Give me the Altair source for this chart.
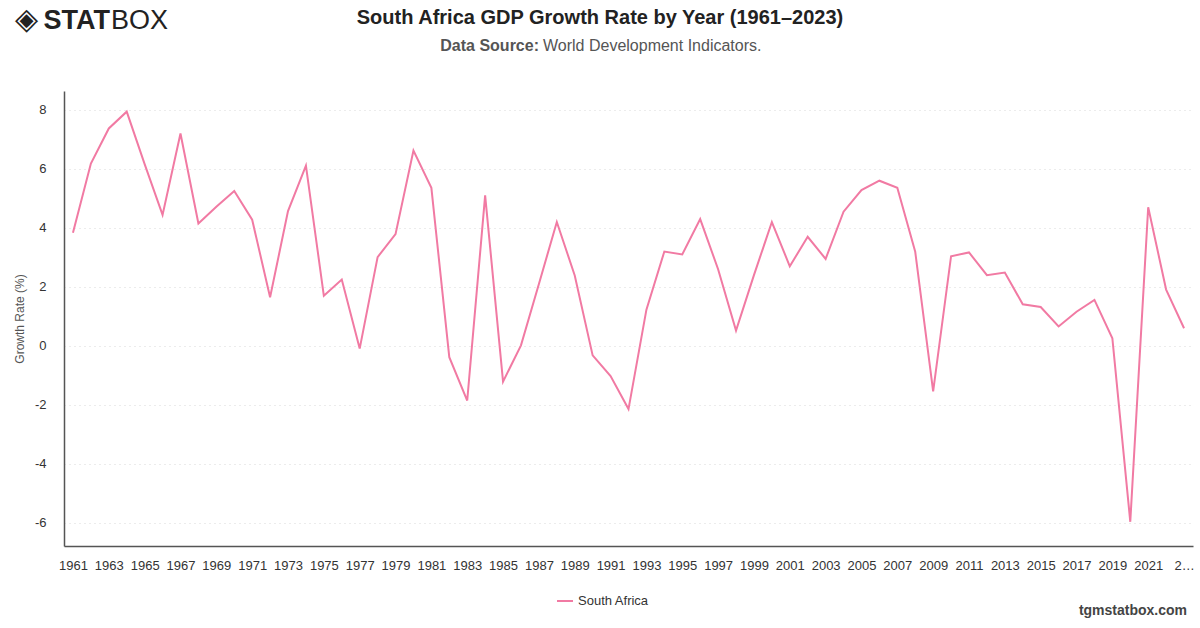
import altair as alt
import pandas as pd

years = list(range(1961, 2024))
growth = [
    3.84, 6.18, 7.37, 7.94, 6.16, 4.44, 7.20, 4.15, 4.72, 5.25,
    4.28, 1.65, 4.57, 6.11, 1.70, 2.25, -0.09, 3.01, 3.79, 6.62,
    5.36, -0.38, -1.85, 5.10, -1.21, 0.02, 2.10, 4.20, 2.39, -0.32,
    -1.02, -2.14, 1.23, 3.20, 3.10, 4.30, 2.60, 0.52, 2.40, 4.20,
    2.70, 3.70, 2.95, 4.55, 5.28, 5.60, 5.36, 3.19, -1.54, 3.04,
    3.17, 2.40, 2.49, 1.41, 1.32, 0.66, 1.16, 1.56, 0.26, -5.96,
    4.70, 1.91, 0.60,
]
country = ["South Africa"] * len(years)
x_tick_years = list(range(1961, 2024, 2))
y_ticks = [-6, -4, -2, 0, 2, 4, 6, 8]

title_text = "South Africa GDP Growth Rate by Year (1961\u20132023)"
subtitle_bold = "Data Source:"
subtitle_rest = "World Development Indicators."
footer_text = "tgmstatbox.com"

FONT = "Liberation Sans"
W, H = 1129, 455
PAD_L, PAD_T = 64, 91

df = pd.DataFrame({"Year": years, "Growth": growth, "Country": country})

line = alt.Chart(df).mark_line(strokeWidth=2).encode(
    x=alt.X(
        "Year:O",
        scale=alt.Scale(type="point", padding=0.5),
        axis=alt.Axis(
            values=x_tick_years,
            labelAngle=0,
            labelExpr="datum.value == 2023 ? '2\u2026' : datum.label",
            ticks=False,
            grid=False,
            title=None,
            labelFontSize=13,
            labelColor="#333333",
            labelPadding=13,
            labelFont=FONT,
            domainColor="#555555",
            domainWidth=1.5,
        ),
    ),
    y=alt.Y(
        "Growth:Q",
        scale=alt.Scale(domain=[-6.78, 8.64], nice=False, zero=False),
        axis=alt.Axis(
            values=y_ticks,
            labelExpr="'' + datum.value",
            ticks=False,
            grid=True,
            gridDash=[1, 4],
            gridColor="#d9d9d9",
            gridWidth=1,
            title="Growth Rate (%)",
            titleFont=FONT,
            titleFontSize=12,
            titleFontWeight="normal",
            titleColor="#555555",
            titleX=-38,
            labelFontSize=13,
            labelColor="#333333",
            labelPadding=18,
            labelFont=FONT,
            domainColor="#555555",
            domainWidth=1.5,
        ),
    ),
    color=alt.Color(
        "Country:N",
        scale=alt.Scale(range=["#f17aa3"]),
        legend=alt.Legend(
            orient="none",
            legendX=492,
            legendY=501,
            title=None,
            symbolType="stroke",
            symbolStrokeWidth=2,
            symbolSize=256,
            labelFontSize=13,
            labelColor="#333333",
            labelFont=FONT,
            padding=0,
        ),
    ),
)


def txt(s, x, y, size, weight="normal", color="#222222", align="left"):
    return alt.Chart(pd.DataFrame({"t": [s]})).mark_text(
        font=FONT, fontSize=size, fontWeight=weight, color=color,
        align=align, baseline="middle",
    ).encode(x=alt.value(x), y=alt.value(y), text="t:N")


layers = [
    line,
    txt(title_text, 600 - PAD_L, 18 - PAD_T, 20, "bold", "#222222", "center"),
    txt(subtitle_bold, 539 - PAD_L, 46 - PAD_T, 16, "bold", "#555555", "right"),
    txt(subtitle_rest, 543 - PAD_L, 46 - PAD_T, 16, "normal", "#555555", "left"),
    txt("\u25c8", 26 - PAD_L, 20 - PAD_T, 30, "normal", "#222222", "center"),
    txt("STAT", 110 - PAD_L, 21 - PAD_T, 27, 900, "#222222", "right"),
    txt("BOX", 111 - PAD_L, 21 - PAD_T, 27, 300, "#222222", "left"),
    txt(footer_text, 1187 - PAD_L, 611 - PAD_T, 14, "bold", "#444444", "right"),
]

chart = alt.layer(*layers).properties(
    width=W,
    height=H,
    autosize=alt.AutoSizeParams(type="none"),
    padding={"left": PAD_L, "top": PAD_T, "right": 1200 - PAD_L - W, "bottom": 628 - PAD_T - H},
    background="white",
).configure_view(stroke=None)

chart.save("out.html", embed_options={"renderer": "svg", "actions": False})
